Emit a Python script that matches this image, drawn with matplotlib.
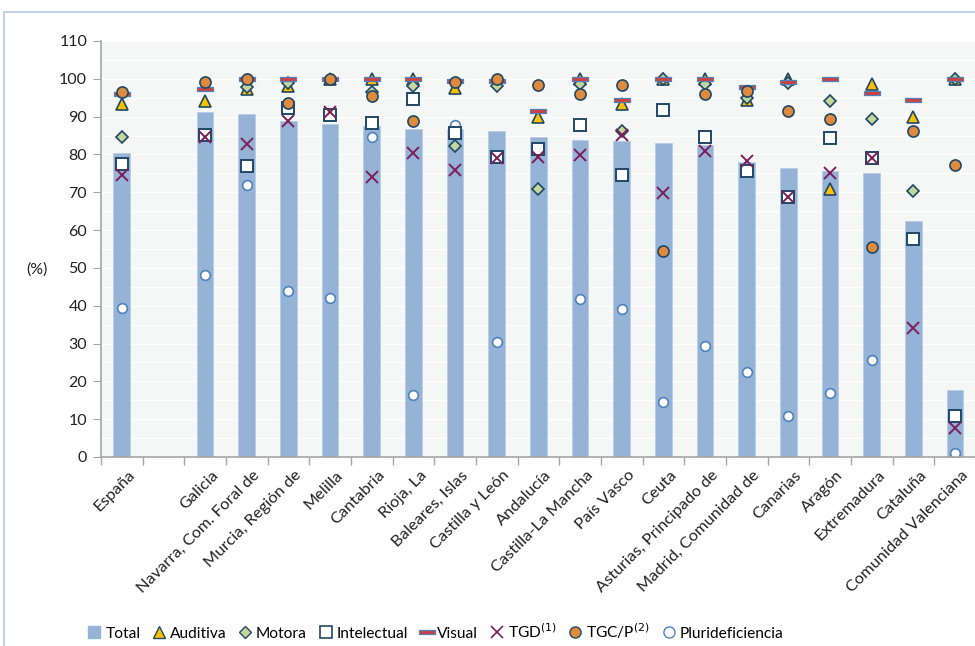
import numpy as np
import matplotlib
matplotlib.use("Agg")
import matplotlib.pyplot as plt
from matplotlib.lines import Line2D
from matplotlib.patches import Rectangle
from matplotlib.ticker import MultipleLocator, FixedLocator
from matplotlib.transforms import ScaledTranslation

plt.rcParams['font.family'] = ['Lato', 'DejaVu Sans']

nan = np.nan
categories = ["España", "", "Galicia", "Navarra, Com. Foral de", "Murcia, Región de", "Melilla",
              "Cantabria", "Rioja, La", "Baleares, Islas", "Castilla y León", "Andalucía",
              "Castilla-La Mancha", "País Vasco", "Ceuta", "Asturias, Principado de",
              "Madrid, Comunidad de", "Canarias", "Aragón", "Extremadura", "Cataluña",
              "Comunidad Valenciana"]

total = [80.3, nan, 91.3, 90.6, 88.8, 88.0, 87.6, 86.8, 86.7, 86.1, 84.5, 83.7, 83.6, 82.9,
         82.4, 77.9, 76.4, 75.5, 75.0, 62.4, 17.8]
auditiva = [93.3, nan, 94.1, 97.2, 98.0, 100, 100, 100, 97.5, nan, 89.8, 100, 93.3, 100,
            100, 94.5, 100, 70.8, 98.5, 89.8, 100]
motora = [84.5, nan, nan, 97.9, 98.8, nan, 96.6, 98.1, 82.3, 98.1, 70.9, 98.5, 86.2, 100,
          98.6, 94.8, 98.8, 94.2, 89.3, 70.3, 100]
intelectual = [77.4, nan, 85.1, 76.9, 92.2, 90.4, 88.4, 94.7, 85.6, 79.4, 81.4, 87.9, 74.5, 91.7,
               84.5, 75.5, 68.7, 84.4, 79.1, 57.7, 10.8]
visual = [96.1, nan, 97.2, 100, 100, 100, 100, 100, 99.4, 99.4, 91.6, 100, 94.3, 100,
          100, 97.9, 99.2, 100, 96.3, 94.3, 100]
tgd = [74.6, nan, 84.7, 82.8, 88.9, 91.1, 74.1, 80.5, 75.9, 79.0, 79.2, 79.9, 85.1, 69.9,
       80.9, 78.3, 68.7, 75.2, 79.1, 34.0, 7.6]
tgcp = [96.6, nan, 99.1, 100, 93.5, 100, 95.5, 88.9, 99.1, 99.9, 98.4, 96.1, 98.4, 54.6,
        96.1, 96.8, 91.6, 89.3, 55.5, 86.3, 77.2]
pluri = [39.4, nan, 48.0, 71.9, 43.9, 42.0, 84.6, 16.5, 87.7, 30.4, nan, 41.7, 39.1, 14.6,
         29.3, 22.6, 10.9, 17.0, 25.6, nan, 1.1]

legend_labels = ["Total", "Auditiva", "Motora", "Intelectual", "Visual",
                 "TGD$^{(1)}$", "TGC/P$^{(2)}$", "Pluerideficiencia".replace("Plue", "Plu")]

fig = plt.figure(figsize=(9.75, 6.46), dpi=100)
ax = fig.add_axes([101/975, 1-457/646, 874/975, 416/646])

x = np.arange(len(categories))
NAVY = '#1F4868'
bar_c = '#95B3D7'
ax.bar(x, total, width=0.4, color=bar_c, edgecolor='#B8CCE4', linewidth=0.6, zorder=1)

vis_marker = [(-1, -0.2), (1, -0.2), (1, 0.2), (-1, 0.2), (-1, -0.2)]

ax.plot(x, pluri, ls='none', marker='o', ms=7, mfc='white', mec='#4F81BD', mew=1.2, zorder=2)
ax.plot(x, auditiva, ls='none', marker='^', ms=9, mfc='#FFC000', mec=NAVY, mew=1.2, zorder=3)
ax.plot(x, motora, ls='none', marker='D', ms=6.5, mfc='#C3D69B', mec=NAVY, mew=1.2, zorder=4)
ax.plot(x, intelectual, ls='none', marker='s', ms=8, mfc='white', mec=NAVY, mew=1.4, zorder=5)
ax.plot(x, visual, ls='none', marker=vis_marker, ms=12, mfc='#D0403C', mec='#4F81BD', mew=0.9, zorder=6)
ax.plot(x, tgd, ls='none', marker='x', ms=8, mec='#7B1E5A', mew=1.4, zorder=7)
ax.plot(x, tgcp, ls='none', marker='o', ms=8, mfc='#E08A3C', mec=NAVY, mew=1.2, zorder=8)

ax.set_xlim(-0.5, len(categories) - 0.52)
ax.set_ylim(0, 110)
ax.set_facecolor('#F5F7F7')
ax.yaxis.set_major_locator(MultipleLocator(10))
ax.yaxis.set_minor_locator(MultipleLocator(5))
ax.grid(True, which='both', axis='y', color='white', linewidth=1.0, zorder=0)
ax.set_axisbelow(True)

for s in ['top', 'right']:
    ax.spines[s].set_visible(False)
for s in ['left', 'bottom']:
    ax.spines[s].set_color('#A6A6A6')
    ax.spines[s].set_linewidth(1.2)

ax.tick_params(axis='y', which='major', length=6, color='#A6A6A6', labelsize=11.5, pad=4,
               labelcolor='#222222')
ax.tick_params(axis='y', which='minor', length=0)
ax.set_xticks(x)
ax.set_xticklabels(categories, rotation=45, ha='right', va='top', rotation_mode='anchor',
                   fontsize=11.8, color='#222222')
ax.tick_params(axis='x', which='major', length=0, pad=8)
ax.xaxis.set_minor_locator(FixedLocator(np.arange(-0.5, len(categories), 1.0)))
ax.tick_params(axis='x', which='minor', length=6, color='#A6A6A6', width=1)

off = ScaledTranslation(6/100, 0, fig.dpi_scale_trans)
for lab in ax.get_xticklabels():
    lab.set_transform(lab.get_transform() + off)

fig.text(37/975, 1-270/646, "(%)", fontsize=11.5, ha='center', va='center', color='#222222')

handles = [
    Line2D([], [], ls='none', marker='s', ms=8, mfc=bar_c, mec=bar_c),
    Line2D([], [], ls='none', marker='^', ms=8, mfc='#FFC000', mec=NAVY, mew=1),
    Line2D([], [], ls='none', marker='D', ms=6, mfc='#C3D69B', mec=NAVY, mew=1),
    Line2D([], [], ls='none', marker='s', ms=8, mfc='white', mec=NAVY, mew=1.2),
    Line2D([], [], ls='none', marker=vis_marker, ms=12, mfc='#D0403C', mec='#4F81BD', mew=0.9),
    Line2D([], [], ls='none', marker='x', ms=8, mec='#7B1E5A', mew=1.2),
    Line2D([], [], ls='none', marker='o', ms=8, mfc='#E08A3C', mec=NAVY, mew=1),
    Line2D([], [], ls='none', marker='o', ms=8, mfc='white', mec='#4F81BD', mew=1),
]
fig.legend(handles, legend_labels, loc='center left', bbox_to_anchor=(82/975, 1-631/646),
           ncol=8, frameon=False, fontsize=11.2, handlelength=0.8, handletextpad=0.3,
           columnspacing=0.8, borderaxespad=0)

fig.add_artist(Rectangle((4/975, -0.05), 1.2, 1.05 - 12/646, transform=fig.transFigure,
                         fill=False, edgecolor='#B7C9E2', linewidth=1.2))

fig.savefig("out.png", dpi=100)
